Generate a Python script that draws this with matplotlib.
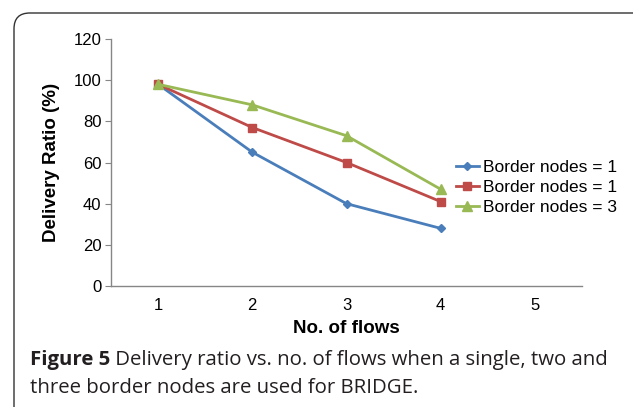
import matplotlib.pyplot as plt
from matplotlib.patches import FancyBboxPatch

flows = [1, 2, 3, 4]
border_1a = [98, 65, 40, 28]
border_1b = [98, 77, 60, 41]
border_3 = [98, 88, 73, 47]
labels = ["Border nodes = 1", "Border nodes = 1", "Border nodes = 3"]
x_ticks = [1, 2, 3, 4, 5]
y_ticks = [0, 20, 40, 60, 80, 100, 120]
caption_bold = "Figure 5"
caption_line1 = " Delivery ratio vs. no. of flows when a single, two and"
caption_line2 = "three border nodes are used for BRIDGE."

plt.rcParams["font.family"] = ["Liberation Sans", "DejaVu Sans"]
cap_family = "Open Sans"

fig = plt.figure(figsize=(6.33, 4.07), dpi=100)

# rounded frame around figure panel
frame = FancyBboxPatch(
    (14 / 633, -0.05), 1.2, 1 - 13 / 407 + 0.05,
    boxstyle="round,pad=0,rounding_size=0.025",
    transform=fig.transFigure, fill=False, edgecolor="#333333", linewidth=1.0,
    mutation_aspect=633 / 407,
)
fig.patches.append(frame)

ax = fig.add_axes([111 / 633, 1 - 286 / 407, (582 - 111) / 633, (286 - 39) / 407])

ax.plot(flows, border_1a, color="#4a7ebb", marker="D", markersize=4.5,
        linewidth=2, label=labels[0])
ax.plot(flows, border_1b, color="#be4b48", marker="s", markersize=6,
        linewidth=2, label=labels[1])
ax.plot(flows, border_3, color="#98b954", marker="^", markersize=6.5,
        linewidth=2, label=labels[2])

ax.set_xlim(0.5, 5.5)
ax.set_ylim(0, 120)
ax.set_xticks(x_ticks)
ax.set_yticks(y_ticks)
ax.tick_params(axis="x", length=0, labelsize=12, pad=9)
ax.tick_params(axis="y", length=4, color="#868686", labelsize=12, pad=3)

for side in ["top", "right"]:
    ax.spines[side].set_visible(False)
for side in ["left", "bottom"]:
    ax.spines[side].set_color("#868686")
    ax.spines[side].set_linewidth(1)

ax.set_xlabel("No. of flows", fontsize=13.5, fontweight="bold", labelpad=5)
ax.set_ylabel("Delivery Ratio (%)", fontsize=13.5, fontweight="bold", labelpad=10)

ax.legend(loc="center left", bbox_to_anchor=(0.718, 0.40), frameon=False,
          fontsize=12.5, handlelength=1.3, handletextpad=0.25, labelspacing=0.28,
          borderaxespad=0)

# caption: bold lead then normal text, fitted to the reference width
renderer = fig.canvas.get_renderer()
x0 = 30 / 633
y1 = 1 - 360 / 407
y2 = 1 - 388 / 407
target_w = 608 - 30
size = 14
for _ in range(3):
    tb = fig.text(x0, y1, caption_bold, fontsize=size, fontweight="bold",
                  va="center", family=cap_family)
    wb = tb.get_window_extent(renderer).width
    tn = fig.text(x0 + wb / 633, y1, caption_line1, fontsize=size,
                  va="center", family=cap_family)
    total = wb + tn.get_window_extent(renderer).width
    tb.remove()
    tn.remove()
    size = size * target_w / total

tb = fig.text(x0, y1, caption_bold, fontsize=size, fontweight="bold",
              color="#231f20", va="center", family=cap_family)
wb = tb.get_window_extent(renderer).width
fig.text(x0 + wb / 633, y1, caption_line1, fontsize=size,
         color="#231f20", va="center", family=cap_family)
fig.text(x0, y2, caption_line2, fontsize=size,
         color="#231f20", va="center", family=cap_family)

fig.savefig("out.png", dpi=100)
